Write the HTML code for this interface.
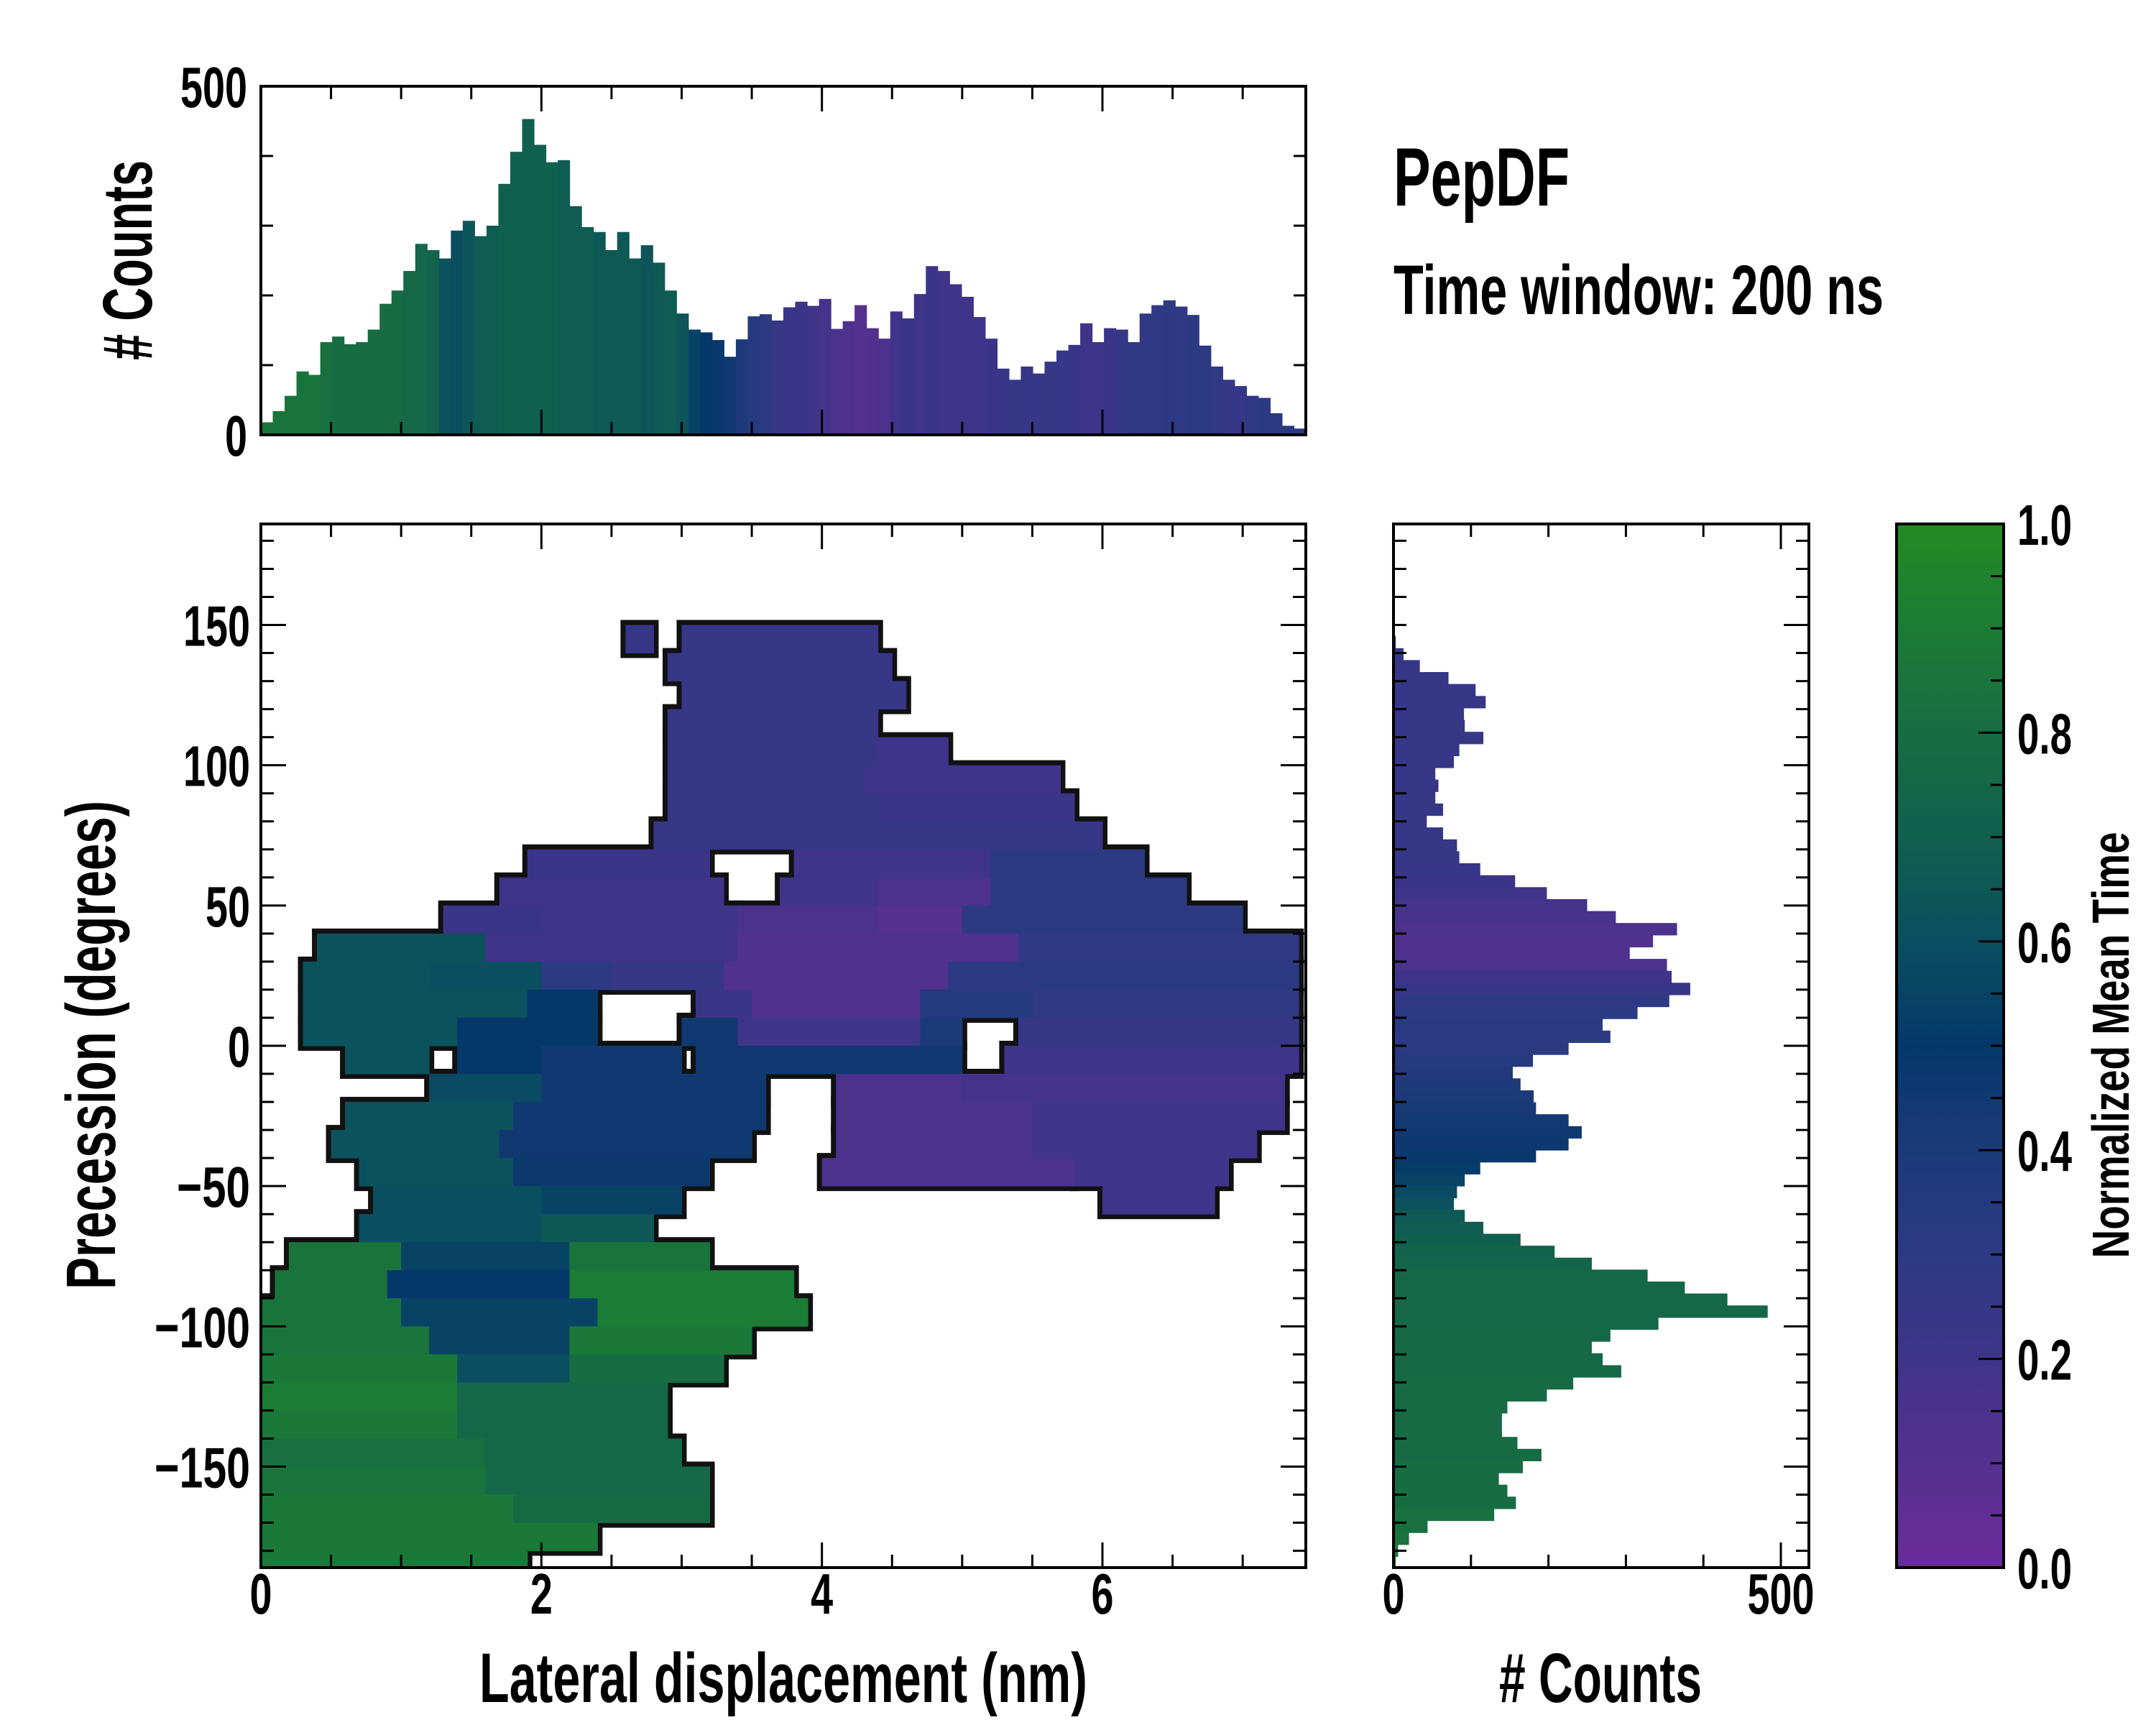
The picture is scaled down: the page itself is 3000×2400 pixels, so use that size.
<!DOCTYPE html>
<html><head><meta charset="utf-8">
<style>
html,body{margin:0;padding:0;background:#fff;}
svg{display:block;}
text{font-family:"Liberation Sans Narrow","Liberation Sans",sans-serif;font-weight:bold;fill:#000;}
</style></head>
<body>
<svg id="fig" width="3000" height="2400" viewBox="0 0 3000 2400" xmlns="http://www.w3.org/2000/svg">
<defs>
<clipPath id="mainClip"><rect x="363" y="729" width="1454" height="1452"/></clipPath>
<linearGradient id="cbGrad" x1="0" y1="1" x2="0" y2="0">
<stop offset="0" stop-color="#6a2c9b"/><stop offset="0.1" stop-color="#55308f"/>
<stop offset="0.2" stop-color="#3f348a"/><stop offset="0.3" stop-color="#2c3a84"/>
<stop offset="0.4" stop-color="#1c3a78"/><stop offset="0.5" stop-color="#04386a"/>
<stop offset="0.6" stop-color="#0b4e60"/><stop offset="0.7" stop-color="#10604e"/>
<stop offset="0.8" stop-color="#176d42"/><stop offset="0.9" stop-color="#1b7c35"/>
<stop offset="1" stop-color="#228b22"/>
</linearGradient>
</defs>
<g id="topHist"></g>
<g id="main"></g>
<g id="rightHist"></g>
<g id="cbar">
<rect x="2639" y="729" width="149" height="1452" fill="url(#cbGrad)"/>
</g>
<g id="ticks"></g>
<text x="1939" y="286" font-size="115" textLength="245" lengthAdjust="spacingAndGlyphs">PepDF</text>
<text x="1939" y="437" font-size="97" textLength="682" lengthAdjust="spacingAndGlyphs">Time window: 200 ns</text>
<text transform="translate(211,362) rotate(-90)" text-anchor="middle" font-size="97" textLength="278" lengthAdjust="spacingAndGlyphs"># Counts</text>
<text transform="translate(160,1454) rotate(-90)" text-anchor="middle" font-size="97" textLength="680" lengthAdjust="spacingAndGlyphs">Precession (degrees)</text>
<text x="1090" y="2368" text-anchor="middle" font-size="97" textLength="846" lengthAdjust="spacingAndGlyphs">Lateral displacement (nm)</text>
<text x="2227" y="2368" text-anchor="middle" font-size="97" textLength="282" lengthAdjust="spacingAndGlyphs"># Counts</text>
<text transform="translate(2962,1454) rotate(-90)" text-anchor="middle" font-size="72" textLength="593" lengthAdjust="spacingAndGlyphs">Normalized Mean Time</text>
</svg>
<script>
// ---- data ----
const topCounts = [18,34,56,91,86,133,141,130,133,151,188,207,235,274,265,253,293,307,285,300,360,406,453,416,391,394,328,298,291,265,291,253,272,247,207,174,151,147,136,112,137,170,173,164,183,191,185,195,152,163,186,153,138,177,167,202,242,235,216,198,169,138,95,79,98,88,105,121,129,160,133,153,151,133,174,186,193,184,172,128,98,79,70,56,53,31,13,9];
const topMeanTime = [0.85,0.85,0.85,0.85,0.85,0.82,0.8,0.8,0.8,0.8,0.8,0.78,0.76,0.75,0.72,0.62,0.6,0.64,0.68,0.68,0.7,0.7,0.7,0.7,0.7,0.68,0.68,0.68,0.66,0.66,0.66,0.66,0.64,0.66,0.68,0.64,0.55,0.5,0.48,0.45,0.38,0.34,0.3,0.25,0.22,0.22,0.2,0.18,0.15,0.13,0.1,0.12,0.15,0.2,0.22,0.2,0.22,0.2,0.2,0.2,0.2,0.22,0.24,0.25,0.24,0.25,0.26,0.24,0.22,0.2,0.2,0.22,0.26,0.28,0.28,0.28,0.29,0.28,0.3,0.3,0.28,0.26,0.24,0.28,0.3,0.3,0.32,0.32];
const rightCounts = [3,13,34,71,106,119,91,92,116,85,78,54,58,54,64,43,64,82,85,112,157,198,250,287,366,335,305,353,359,383,356,315,270,280,226,180,154,164,181,184,226,243,226,184,112,92,82,78,92,116,164,208,256,328,376,431,483,342,280,256,270,294,232,198,147,140,140,160,191,167,136,147,158,130,44,20,6,3];
const rightMeanTime = [0.25,0.25,0.25,0.25,0.25,0.25,0.25,0.25,0.25,0.25,0.25,0.25,0.25,0.25,0.25,0.25,0.25,0.25,0.25,0.24,0.22,0.2,0.18,0.16,0.14,0.12,0.12,0.15,0.2,0.24,0.28,0.3,0.32,0.3,0.32,0.34,0.36,0.38,0.4,0.42,0.44,0.45,0.46,0.48,0.52,0.55,0.58,0.62,0.66,0.68,0.7,0.72,0.74,0.76,0.76,0.76,0.76,0.76,0.77,0.77,0.77,0.77,0.78,0.78,0.78,0.78,0.78,0.78,0.78,0.8,0.8,0.8,0.8,0.82,0.82,0.84,0.84,0.85];
const heatRowLow = [140,130,120,110,100,90,80,70,60,50,40,30,20,10,0,-10,-20,-30,-40,-50,-60,-70,-80,-90,-100,-110,-120,-130,-140,-150,-160,-170,-180,-190];
const heatSegments = [
 [[2.6,2.8,.25],[3.0,4.4,.25]],
 [[2.9,4.5,.25]],
 [[3.0,4.6,.25]],
 [[2.9,4.4,.25]],
 [[2.9,4.4,.25],[4.4,4.9,.2]],
 [[2.9,4.3,.25],[4.3,5.7,.2]],
 [[2.9,4.4,.25],[4.4,5.8,.22]],
 [[2.8,4.5,.25],[4.5,6.0,.25]],
 [[1.9,3.2,.22],[3.8,5.2,.2],[5.2,6.3,.3]],
 [[1.7,3.3,.2],[3.7,4.4,.2],[4.4,5.2,.14],[5.2,6.6,.3]],
 [[1.3,2.0,.22],[2.0,3.4,.2],[3.4,4.4,.15],[4.4,5.0,.1],[5.0,7.0,.3]],
 [[0.4,1.6,.62],[1.6,3.4,.2],[3.4,4.5,.12],[4.5,5.4,.12],[5.4,7.4,.28]],
 [[0.3,1.2,.62],[1.2,2.0,.6],[2.0,2.5,.3],[2.5,3.3,.25],[3.3,4.9,.12],[4.9,5.6,.3],[5.6,7.4,.3]],
 [[0.3,1.9,.62],[1.9,2.4,.5],[3.1,3.5,.22],[3.5,4.7,.12],[4.7,5.5,.35],[5.5,7.4,.28]],
 [[0.3,1.4,.62],[1.4,2.4,.5],[3.0,3.4,.45],[3.4,4.7,.2],[4.7,5.0,.4],[5.4,7.4,.25]],
 [[0.6,1.2,.62],[1.4,2.0,.5],[2.0,3.0,.45],[3.1,4.2,.45],[4.2,5.0,.45],[5.3,6.0,.2],[6.0,7.4,.2]],
 [[1.2,2.0,.58],[2.0,3.6,.45],[4.1,5.0,.15],[5.0,7.3,.18]],
 [[0.6,1.8,.62],[1.8,3.6,.45],[4.1,5.5,.15],[5.5,7.3,.2]],
 [[0.5,1.7,.62],[1.7,3.5,.45],[4.1,5.5,.15],[5.5,7.1,.2]],
 [[0.7,1.8,.62],[1.8,3.2,.47],[4.0,5.8,.15],[5.8,6.9,.2]],
 [[0.8,2.0,.6],[2.0,3.0,.55],[6.0,6.8,.2]],
 [[0.7,2.0,.6],[2.0,2.8,.65]],
 [[0.2,1.0,.85],[1.0,2.2,.55],[2.2,3.2,.85]],
 [[0.1,0.9,.85],[0.9,2.2,.5],[2.2,3.8,.9]],
 [[0.0,1.0,.85],[1.0,2.4,.55],[2.4,3.9,.9]],
 [[0.0,1.2,.85],[1.2,2.2,.55],[2.2,3.5,.88]],
 [[0.0,1.4,.88],[1.4,2.2,.6],[2.2,3.3,.8]],
 [[0.0,1.4,.9],[1.4,2.9,.75]],
 [[0.0,1.4,.88],[1.4,2.9,.75]],
 [[0.0,1.6,.82],[1.6,3.0,.75]],
 [[0.0,1.6,.85],[1.6,3.2,.75]],
 [[0.0,1.8,.88],[1.8,3.2,.78]],
 [[0.0,2.4,.88]],
 [[0.0,1.9,.88]]
];
const mainXTicks = ["0","2","4","6"];
const mainYTicks = ["150","100","50","0","\u221250","\u2212100","\u2212150"];
const cbTicks = ["0.0","0.2","0.4","0.6","0.8","1.0"];

// ---- axes ----
const NS = "http://www.w3.org/2000/svg";
const XMAX = 7.45, YMIN = -186, YMAX = 186;
const mx = v => 363 + v * (1454 / XMAX);
const my = d => 729 + (YMAX - d) * (1452 / (YMAX - YMIN));
const ty = c => 605 - c * (485 / 500);
const rx = c => 1939 + c * (539 / 500);
const TOP_BW = XMAX / 88, RIGHT_TOP = 146, RIGHT_BW = 4.26;
const stops = [[0,[106,44,155]],[0.1,[85,48,143]],[0.2,[63,52,138]],[0.3,[44,58,132]],[0.4,[28,58,120]],[0.5,[4,56,106]],[0.6,[11,78,96]],[0.7,[16,96,78]],[0.8,[23,109,66]],[0.9,[27,124,53]],[1,[34,139,34]]];
function cmap(v){
  for(let i=1;i<stops.length;i++){
    if(v<=stops[i][0]){
      const a=stops[i-1],b=stops[i],t=(v-a[0])/(b[0]-a[0]);
      const c=a[1].map((x,k)=>Math.round(x+(b[1][k]-x)*t));
      return `rgb(${c[0]},${c[1]},${c[2]})`;
    }
  }
  return "rgb(34,139,34)";
}
function mk(tag, attrs, parent){
  const e=document.createElementNS(NS,tag);
  for(const k in attrs) e.setAttribute(k,attrs[k]);
  parent.appendChild(e); return e;
}
const th=document.getElementById('topHist');
topCounts.forEach((c,i)=>{
  const x0=mx(i*TOP_BW), x1=mx((i+1)*TOP_BW);
  const r=mk('rect',{x:x0,y:ty(c),width:x1-x0+0.6,height:ty(0)-ty(c),fill:cmap(topMeanTime[i])},th);
  
  
});
const rh=document.getElementById('rightHist');
rightCounts.forEach((c,i)=>{
  const yTop=my(RIGHT_TOP-i*RIGHT_BW), yBot=my(RIGHT_TOP-(i+1)*RIGHT_BW);
  const r=mk('rect',{x:rx(0),y:yTop,width:rx(c)-rx(0),height:yBot-yTop+0.6,fill:cmap(rightMeanTime[i])},rh);
  
  
});
const mg=document.getElementById('main');
mg.setAttribute('clip-path','url(#mainClip)');
const outline=mk('g',{},mg), fillG=mk('g',{},mg);
heatSegments.forEach((segs,ri)=>{
  const lo=heatRowLow[ri];
  segs.forEach(s=>{
    const x0=mx(s[0]), x1=mx(s[1]), y0=my(lo+10), y1=my(lo);
    mk('rect',{x:x0-7,y:y0-7,width:x1-x0+14,height:y1-y0+14,fill:'#111'},outline);
    const r=mk('rect',{x:x0,y:y0,width:x1-x0+0.5,height:y1-y0+0.5,fill:cmap(s[2])},fillG);
    
    
  });
});
const tg=document.getElementById('ticks');
function frame(x,y,w,h,name){
  const r=mk('rect',{x:x,y:y,width:w,height:h,fill:'none',stroke:'#000','stroke-width':4},tg);
  
  
}
function line(x1,y1,x2,y2,w){mk('line',{x1:x1,y1:y1,x2:x2,y2:y2,stroke:'#000','stroke-width':w||3},tg);}
function tw(s){let w=0;for(const ch of s){w+= ch==='.'?14:(ch==='\u2212'?40:31);}return w;}
function label(x,y,txt,anchor,name){
  const t=mk('text',{x:x,y:y,'text-anchor':anchor,'font-size':80,textLength:tw(txt),lengthAdjust:'spacingAndGlyphs'},tg);
  t.textContent=txt;
  
  
}
frame(363,120,1454,485,'top-hist-frame');
frame(363,729,1454,1452,'main-frame');
frame(1939,729,578,1452,'right-hist-frame');
frame(2639,729,149,1452,'colorbar-frame');
for(let v=0.5;v<XMAX;v+=0.5){
  const major=Math.abs(v%2)<1e-6, L=major?35:18;
  line(mx(v),2181,mx(v),2181-L); line(mx(v),729,mx(v),729+L);
  line(mx(v),605,mx(v),605-L); line(mx(v),120,mx(v),120+L);
}
mainXTicks.forEach(s=>label(mx(+s),2245,s,'middle','x-tick-label'));
for(let d=-180;d<=180;d+=10){
  const major=d%50===0, L=major?35:18;
  line(363,my(d),363+L,my(d)); line(1817,my(d),1817-L,my(d));
  line(1939,my(d),1957,my(d)); line(2517,my(d),2517-L,my(d));
}
mainYTicks.forEach(s=>{const v=+s.replace('\u2212','-');label(348,my(v)+29,s,'end','y-tick-label');});
for(let c=100;c<500;c+=100){line(363,ty(c),380,ty(c));line(1817,ty(c),1800,ty(c));}
label(344,ty(500)+29,'500','end','top-y-tick-label');
label(344,ty(0)+29,'0','end','top-y-tick-label');
for(let c=100;c<=500;c+=100){const L=c===500?35:18;line(rx(c),2181,rx(c),2181-L);line(rx(c),729,rx(c),729+L);}
label(rx(0),2245,'0','middle','right-x-tick-label');
label(rx(500),2245,'500','middle','right-x-tick-label');
for(let k=1;k<20;k++){
  const y=2181-k*1452/20, major=k%4===0;
  line(2788,y,2788-(major?35:18),y);
}
cbTicks.forEach(s=>label(2807,2181-(+s)*1452+29,s,'start','colorbar-tick-label'));
</script>
</body></html>
